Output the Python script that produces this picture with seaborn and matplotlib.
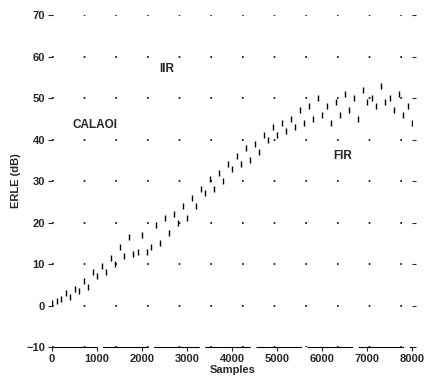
import matplotlib
matplotlib.use("Agg")
import matplotlib.pyplot as plt
import seaborn as sns

# ERLE, every 100 samples
samples = list(range(0, 8100, 100))
erle_db = [0.5, 1, 1.5, 3, 2, 4, 3.5, 6, 4.5, 8,
           7, 9.5, 8, 11.5, 10, 14, 12, 16.5, 12.5, 13,
           17, 13, 14, 19.5, 15, 21, 17.5, 22, 20, 24,
           21, 26, 24, 28, 27, 30.5, 28, 32, 30, 34,
           33, 36, 34, 38, 35, 39, 37, 41, 40, 43,
           41, 44, 42, 45, 43, 47, 44, 48, 45, 50,
           46, 48, 44, 49, 46, 51, 47, 50, 45, 52,
           49, 50, 48, 53, 49, 50, 47, 51, 46, 48,
           44]

x_ticks = [0, 1000, 2000, 3000, 4000, 5000, 6000, 7000, 8000]
y_ticks = [-10, 0, 10, 20, 30, 40, 50, 60, 70]

labels = ["CALAOI", "IIR", "FIR"]
label_pos = [(950, 43.5), (2550, 57), (6450, 36)]

sns.set_style("white")
plt.rcParams["font.family"] = ["Liberation Sans", "DejaVu Sans"]
plt.rcParams["font.weight"] = "bold"

fig = plt.figure(figsize=(4.28, 3.79), dpi=100)
ax = fig.add_axes([0.1215, 0.0844, 0.842, 0.876])

sns.scatterplot(x=samples, y=erle_db, marker="|", s=24, color="black",
                linewidth=1.0, ax=ax, legend=False)

for txt, (tx, ty) in zip(labels, label_pos):
    ax.text(tx, ty, txt, fontsize=8.5, fontweight="bold", ha="center", va="center")

ax.set_xlim(0, 8000)
ax.set_ylim(-10, 70)
ax.set_xticks(x_ticks)
ax.set_yticks(y_ticks)
ax.tick_params(labelsize=8, length=3, width=0.8, left=True, right=True,
               bottom=True, direction="out", pad=2)
for lab in ax.get_xticklabels() + ax.get_yticklabels():
    lab.set_fontweight("bold")

ax.yaxis.grid(True, linestyle=(0, (1, 18)), color="black", linewidth=1.2)
for side in ["top", "left", "right"]:
    ax.spines[side].set_visible(False)
ax.spines["bottom"].set_linestyle((0, (40, 6)))
ax.spines["bottom"].set_color("black")

ax.set_xlabel("Samples", fontsize=8, fontweight="bold", labelpad=1)
ax.set_ylabel("ERLE (dB)", fontsize=8, fontweight="bold", labelpad=4)

fig.savefig("out.png", dpi=100)
